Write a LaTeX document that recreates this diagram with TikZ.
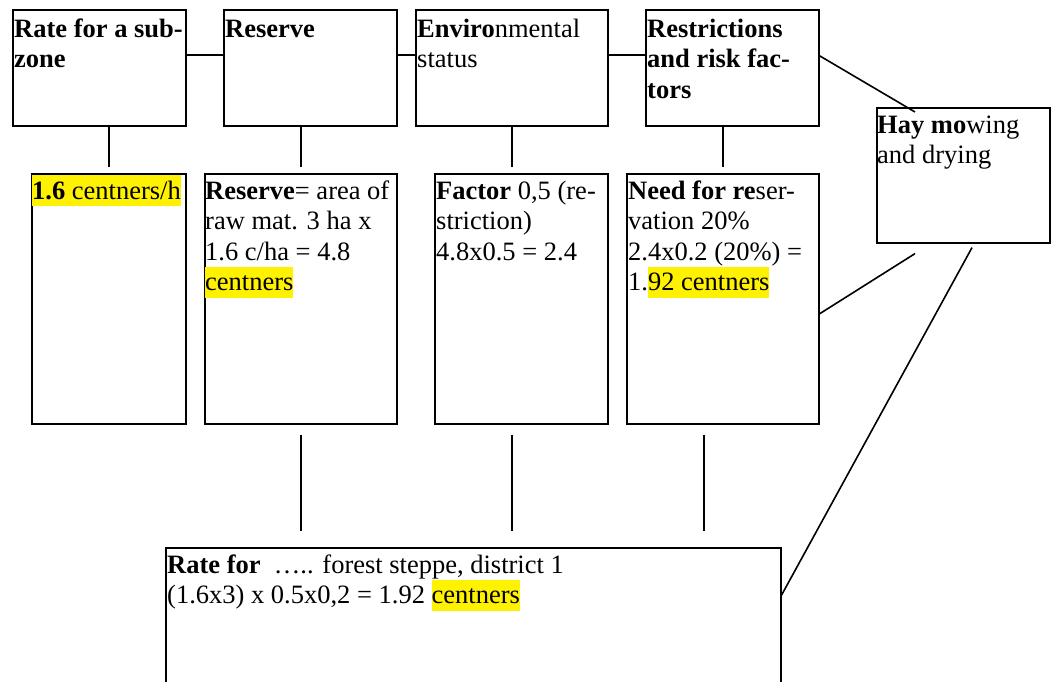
\documentclass[tikz,border=0pt]{standalone}
\usepackage{fontspec}
\setmainfont{Liberation Serif}
\usepackage{tikz}
\newcommand\diagfont{\fontsize{26.5pt}{30.5pt}\selectfont}
\newcommand\topstrut{\rule{0pt}{24pt}}
\newcommand\hl[1]{{\setlength\fboxsep{0pt}\colorbox{yellow}{\rule[-7pt]{0pt}{31pt}#1}}}
\tikzset{
  box/.style={draw, line width=1.6pt, inner sep=0pt, anchor=north west},
  txt/.style={inner sep=0pt, anchor=north west, align=left, font=\diagfont},
  link/.style={line width=1.6pt}
}

\begin{document}
\begin{tikzpicture}[x=1pt,y=-1pt]
\path[use as bounding box] (0,0) rectangle (1053,681);
\clip (0,0) rectangle (1053,681);
% top row
\node[box, minimum width=173pt, minimum height=116pt] (rate) at (12,9) {};
\node[box, minimum width=173pt, minimum height=116pt] (reserve) at (223,9) {};
\node[box, minimum width=192pt, minimum height=116pt] (envir) at (415,9) {};
\node[box, minimum width=173pt, minimum height=116pt] (restr) at (645,9) {};
\node[box, minimum width=173pt, minimum height=135pt] (hay) at (876,107) {};
\node[txt] (rate-t) at ([shift={(2,4)}]rate.north west) {\topstrut\textbf{Rate for a sub-}\\\textbf{zone}};
\node[txt] (reserve-t) at ([shift={(2,4)}]reserve.north west) {\topstrut\textbf{Reserve}};
\node[txt] (envir-t) at ([shift={(2,4)}]envir.north west) {\topstrut\textbf{Enviro}nmental\\status};
\node[txt] (restr-t) at ([shift={(2,4)}]restr.north west) {\topstrut\textbf{Restrictions}\\\textbf{and risk fac-}\\\textbf{tors}};
\node[txt] (hay-t) at ([shift={(1,2)}]hay.north west) {\topstrut\textbf{Hay mo}wing\\and drying};
% values
\node[box, minimum width=154pt, minimum height=250pt] (rateval) at (31,173) {};
\node[box, minimum width=192pt, minimum height=250pt] (resval) at (204,173) {};
\node[box, minimum width=173pt, minimum height=250pt] (factor) at (434,173) {};
\node[box, minimum width=192pt, minimum height=250pt] (need) at (626,173) {};
\node[txt] (rateval-t) at ([shift={(1,2)}]rateval.north west) {\topstrut\hl{\textbf{1.6} centners/h}};
\node[txt] (resval-t) at ([shift={(1,2)}]resval.north west) {\topstrut\textbf{Reserve}= area of\\raw mat. 3 ha x\\1.6 c/ha = 4.8\\\hl{centners}};
\node[txt] (factor-t) at ([shift={(2,2)}]factor.north west) {\topstrut\textbf{Factor} 0,5 (re-\\striction)\\4.8x0.5 = 2.4};
\node[txt] (need-t) at ([shift={(2,2)}]need.north west) {\topstrut\textbf{Need for re}ser-\\vation 20\%\\2.4x0.2 (20\%) =\\1.\hl{92 centners}};
% result
\node[box, minimum width=615pt, minimum height=200pt] (sum) at (165,547) {};
\node[txt] (sum-t) at ([shift={(2,2)}]sum.north west) {\topstrut\textbf{Rate for}\ \ ….. forest steppe, district 1\\(1.6x3) x 0.5x0,2 = 1.92 \hl{centners}};
% connectors
\draw[link] ([yshift=13pt]rate.east) -- ([yshift=13pt]reserve.west);
\draw[link] ([yshift=13pt]reserve.east) -- ([yshift=13pt]envir.west);
\draw[link] ([yshift=13pt]envir.east) -- ([yshift=13pt]restr.west);
\draw[link] ([yshift=12pt]restr.east) -- ([shift={(39,5)}]hay.north west);
\draw[link] (rate.south -| rateval.north) -- ++(0,40);
\draw[link] (reserve.south -| resval.north) -- ++(0,40);
\draw[link] (envir.south) -- ++(0,40);
\draw[link] (restr.south -| need.north) -- ++(0,40);
\draw[link] (resval.south) ++(0,10) -- ++(0,96);
\draw[link] (factor.south -| envir.south) ++(0,10) -- ++(0,96);
\draw[link] ([xshift=-19pt]need.south) ++(0,10) -- ++(0,96);
\draw[link] ([shift={(39,10)}]hay.south west) -- ([yshift=-15pt]need.east);
\draw[link] ([shift={(96,4)}]hay.south west) -- ([yshift=-48pt]sum.north east);
\end{tikzpicture}
\end{document}
